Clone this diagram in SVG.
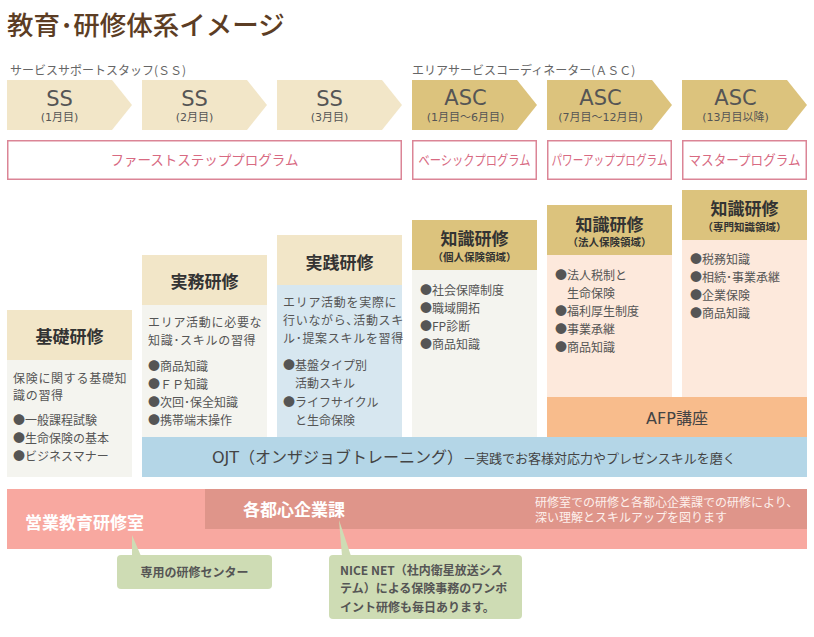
<svg xmlns="http://www.w3.org/2000/svg" width="814" height="637" viewBox="0 0 814 637">
<style>
.jp{font-family:"Noto Sans CJK JP","Noto Sans",sans-serif;}
.lat{font-family:"DejaVu Sans","Noto Sans CJK JP",sans-serif;}
.title{font-size:26.5px;fill:#5c3d24;font-weight:500;}
.lbl{font-size:12px;fill:#666;}
.chev1{fill:#f2e6c8;}
.chev2{fill:#dcc37d;}
.chevT{font-size:21px;fill:#555;text-anchor:middle;}
.chevS{font-size:11px;fill:#555;text-anchor:middle;}
.prog{fill:#fff;stroke:#db8596;stroke-width:1.5;}
.progT{font-size:13.5px;fill:#d86a82;text-anchor:middle;}
.hdr1{fill:#f2e6c8;}
.hdr2{fill:#dcc37d;}
.bodyG{fill:#f4f4ef;}
.bodyB{fill:#d7e7f0;}
.bodyP{fill:#fde9dc;}
.hT{font-size:17px;font-weight:bold;fill:#333;text-anchor:middle;}
.hS{font-size:10.5px;font-weight:bold;fill:#333;text-anchor:middle;}
.desc{font-size:12px;fill:#555;letter-spacing:0.7px;}
.bul{font-size:12px;fill:#555;}
.wT{font-size:17px;font-weight:bold;fill:#fff;}
.note{font-size:12px;fill:#fdf0ec;}
.call{fill:#cedcb4;}
.callT{font-size:12px;font-weight:bold;fill:#555;}
</style>

<g id="title">
<text class="jp title" x="7" y="35">教育･研修体系イメージ</text>
</g>

<g id="label-ss"><text class="jp lbl" x="10" y="74.5">サービスサポートスタッフ(ＳＳ)</text></g>
<g id="label-asc"><text class="jp lbl" x="412" y="74.5">エリアサービスコーディネーター(ＡＳＣ)</text></g>

<g id="chev-ss1">
<polygon class="chev1" points="7,80 112,80 132,105 112,130 7,130"/>
<text class="lat chevT" x="59.5" y="105.7">SS</text>
<text class="lat chevS" x="59.5" y="121">(1月目)</text>
</g>
<g id="chev-ss2">
<polygon class="chev1" points="142,80 247,80 267,105 247,130 142,130"/>
<text class="lat chevT" x="194.5" y="105.7">SS</text>
<text class="lat chevS" x="194.5" y="121">(2月目)</text>
</g>
<g id="chev-ss3">
<polygon class="chev1" points="277,80 382,80 402,105 382,130 277,130"/>
<text class="lat chevT" x="329.5" y="105.7">SS</text>
<text class="lat chevS" x="329.5" y="121">(3月目)</text>
</g>
<g id="chev-asc1">
<polygon class="chev2" points="412,80 517,80 537,105 517,130 412,130"/>
<text class="lat chevT" x="465.5" y="104.7">ASC</text>
<text class="lat chevS" x="465.5" y="121">(1月目～6月目)</text>
</g>
<g id="chev-asc2">
<polygon class="chev2" points="547,80 652,80 672,105 652,130 547,130"/>
<text class="lat chevT" x="600.5" y="104.7">ASC</text>
<text class="lat chevS" x="600.5" y="121">(7月目～12月目)</text>
</g>
<g id="chev-asc3">
<polygon class="chev2" points="682,80 787,80 807,105 787,130 682,130"/>
<text class="lat chevT" x="735.5" y="104.7">ASC</text>
<text class="lat chevS" x="735.5" y="121">(13月目以降)</text>
</g>

<g id="prog-first">
<rect class="prog" x="7.75" y="140.75" width="393.5" height="38.5"/>
<text class="jp progT" x="204.5" y="165">ファーストステッププログラム</text>
</g>
<g id="prog-basic">
<rect class="prog" x="412.75" y="140.75" width="123.5" height="38.5"/>
<text class="jp progT" x="474.5" y="165" textLength="112" lengthAdjust="spacingAndGlyphs">ベーシックプログラム</text>
</g>
<g id="prog-power">
<rect class="prog" x="547.75" y="140.75" width="123.5" height="38.5"/>
<text class="jp progT" x="609.5" y="165" textLength="116" lengthAdjust="spacingAndGlyphs">パワーアッププログラム</text>
</g>
<g id="prog-master">
<rect class="prog" x="682.75" y="140.75" width="123.5" height="38.5"/>
<text class="jp progT" x="744.5" y="165" textLength="112" lengthAdjust="spacingAndGlyphs">マスタープログラム</text>
</g>

<g id="kiso">
<rect class="hdr1" x="7" y="310" width="125" height="50"/>
<rect class="bodyG" x="7" y="360" width="125" height="117"/>
<text class="jp hT" x="69.5" y="342.5">基礎研修</text>
<text class="jp desc" x="13" y="382.5">保険に関する基礎知</text>
<text class="jp desc" x="13" y="399.5">識の習得</text>
<text class="jp bul" x="13" y="424.5">●一般課程試験</text>
<text class="jp bul" x="13" y="442.5">●生命保険の基本</text>
<text class="jp bul" x="13" y="460.5">●ビジネスマナー</text>
</g>

<g id="jitsumu">
<rect class="hdr1" x="142" y="255" width="125" height="50"/>
<rect class="bodyG" x="142" y="305" width="125" height="132"/>
<text class="jp hT" x="204.5" y="287.5">実務研修</text>
<text class="jp desc" x="148" y="326.5">エリア活動に必要な</text>
<text class="jp desc" x="148" y="344.5">知識･スキルの習得</text>
<text class="jp bul" x="148" y="370.6">●商品知識</text>
<text class="jp bul" x="148" y="388.6">●ＦＰ知識</text>
<text class="jp bul" x="148" y="406.6">●次回･保全知識</text>
<text class="jp bul" x="148" y="425">●携帯端末操作</text>
</g>

<g id="jissen">
<rect class="hdr1" x="277" y="235" width="125" height="50"/>
<rect class="bodyB" x="277" y="285" width="125" height="152"/>
<text class="jp hT" x="339.5" y="268.5">実践研修</text>
<text class="jp desc" x="283" y="306.6">エリア活動を実際に</text>
<text class="jp desc" x="283" y="324.6">行いながら､活動スキ</text>
<text class="jp desc" x="283" y="342.6">ル･提案スキルを習得</text>
<text class="jp bul" x="283" y="369.6">●基盤タイプ別</text>
<text class="jp bul" x="295" y="387.6">活動スキル</text>
<text class="jp bul" x="283" y="406.6">●ライフサイクル</text>
<text class="jp bul" x="295" y="424.6">と生命保険</text>
</g>

<g id="chishiki-kojin">
<rect class="hdr2" x="412" y="220" width="125" height="50"/>
<rect class="bodyG" x="412" y="270" width="125" height="167"/>
<text class="jp hT" x="474.5" y="244.5">知識研修</text>
<text class="jp hS" x="474.5" y="261">（個人保険領域）</text>
<text class="jp bul" x="420" y="294.6">●社会保障制度</text>
<text class="jp bul" x="420" y="312.6">●職域開拓</text>
<text class="jp bul" x="420" y="330.6">●FP診断</text>
<text class="jp bul" x="420" y="348.6">●商品知識</text>
</g>

<g id="chishiki-houjin">
<rect class="hdr2" x="547" y="205" width="125" height="50"/>
<rect class="bodyP" x="547" y="255" width="125" height="142"/>
<text class="jp hT" x="609.5" y="230.5">知識研修</text>
<text class="jp hS" x="609.5" y="246">（法人保険領域）</text>
<text class="jp bul" x="555" y="279.6">●法人税制と</text>
<text class="jp bul" x="567" y="297.6">生命保険</text>
<text class="jp bul" x="555" y="315.6">●福利厚生制度</text>
<text class="jp bul" x="555" y="333.6">●事業承継</text>
<text class="jp bul" x="555" y="351.6">●商品知識</text>
</g>

<g id="chishiki-senmon">
<rect class="hdr2" x="682" y="190" width="125" height="50"/>
<rect class="bodyP" x="682" y="240" width="125" height="157"/>
<text class="jp hT" x="744.5" y="214.5">知識研修</text>
<text class="jp hS" x="744.5" y="231">（専門知識領域）</text>
<text class="jp bul" x="690" y="263.6">●税務知識</text>
<text class="jp bul" x="690" y="281.6">●相続･事業承継</text>
<text class="jp bul" x="690" y="299.6">●企業保険</text>
<text class="jp bul" x="690" y="317.6">●商品知識</text>
</g>

<g id="afp">
<rect x="547" y="397" width="260" height="40" fill="#f8bc8c"/>
<text class="lat" x="677" y="424" font-size="16" fill="#444" text-anchor="middle">AFP講座</text>
</g>

<g id="ojt">
<rect x="142" y="437" width="665" height="40" fill="#b4d6e7"/>
<text class="lat" x="212" y="463" font-size="16" fill="#444">OJT（オンザジョブトレーニング）<tspan class="jp" font-size="13">－実践でお客様対応力やプレゼンスキルを磨く</tspan></text>
</g>

<g id="eigyo">
<rect x="7" y="489" width="800" height="60" fill="#f8a8a0"/>
<text class="jp wT" x="25" y="528.5">営業教育研修室</text>
</g>
<g id="kigyoka">
<rect x="205" y="489" width="602" height="40" fill="#df958a"/>
<text class="jp wT" x="243" y="515.5">各都心企業課</text>
<text class="jp note" x="535" y="506.5">研修室での研修と各都心企業課での研修により、</text>
<text class="jp note" x="535" y="522">深い理解とスキルアップを図ります</text>
</g>

<g id="connectors">
<polygon class="call" points="132,535 132,556 141,556"/>
<polygon class="call" points="339,520 342,556 351,556"/>
</g>

<g id="callout-center">
<rect class="call" x="117" y="555" width="155" height="34" rx="4"/>
<text class="jp callT" x="194.5" y="576.5" text-anchor="middle">専用の研修センター</text>
</g>
<g id="callout-nicenet">
<rect class="call" x="329" y="555" width="193" height="64" rx="4"/>
<text class="jp callT" x="340" y="574.5">NICE NET（社内衛星放送シス</text>
<text class="jp callT" x="340" y="593">テム）による保険事務のワンポ</text>
<text class="jp callT" x="340" y="611.5">イント研修も毎日あります。</text>
</g>
</svg>
